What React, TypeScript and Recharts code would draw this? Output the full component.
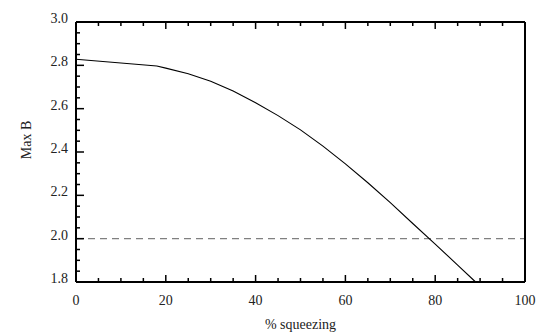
import React from 'react';
import { LineChart, Line, XAxis, YAxis, ReferenceLine } from 'recharts';

const squeezing = [0, 18, 20, 25, 30, 35, 40, 45, 50, 55, 60, 65, 70, 75, 80, 85, 89];
const maxB = [2.828, 2.797, 2.787, 2.761, 2.727, 2.681, 2.627, 2.568, 2.502, 2.427, 2.345, 2.258, 2.166, 2.07, 1.975, 1.878, 1.8];
const xTicks = [0, 5, 10, 15, 20, 25, 30, 35, 40, 45, 50, 55, 60, 65, 70, 75, 80, 85, 90, 95, 100];
const yTicks = [1.8, 1.85, 1.9, 1.95, 2.0, 2.05, 2.1, 2.15, 2.2, 2.25, 2.3, 2.35, 2.4, 2.45, 2.5, 2.55, 2.6, 2.65, 2.7, 2.75, 2.8, 2.85, 2.9, 2.95, 3.0];
const xLabel = '% squeezing';
const yLabel = 'Max B';
const threshold = 2.0;

const data = squeezing.map((x, i) => ({ x, y: maxB[i] }));

const FONT = 'Liberation Serif';
const textStyle = { fontSize: 14, fontFamily: FONT };
const isMajorX = (v: number) => Math.abs(v % 20) < 1e-6;
const isMajorY = (v: number) => Math.abs(Math.round(v * 100) % 20) < 1e-6;

const BottomTick = (props: any) => {
  const { x, y, payload } = props;
  const major = isMajorX(payload.value);
  return (
    <g>
      <line x1={x} x2={x} y1={y} y2={y - (major ? 7 : 4)} stroke="#000" strokeWidth={1.5} />
      {major && (
        <text x={x} y={y + 23} textAnchor="middle" fill="#222" style={textStyle}>
          {payload.value}
        </text>
      )}
    </g>
  );
};

const TopTick = (props: any) => {
  const { x, y, payload } = props;
  const major = isMajorX(payload.value);
  return <line x1={x} x2={x} y1={y} y2={y + (major ? 7 : 4)} stroke="#000" strokeWidth={1.5} />;
};

const LeftTick = (props: any) => {
  const { x, y, payload } = props;
  const major = isMajorY(payload.value);
  return (
    <g>
      <line x1={x} x2={x + (major ? 8 : 4)} y1={y} y2={y} stroke="#000" strokeWidth={1.5} />
      {major && (
        <text x={x - 8} y={y + 1} textAnchor="end" fill="#222" style={textStyle}>
          {payload.value.toFixed(1)}
        </text>
      )}
    </g>
  );
};

const RightTick = (props: any) => {
  const { x, y, payload } = props;
  const major = isMajorY(payload.value);
  return <line x1={x} x2={x - (major ? 8 : 4)} y1={y} y2={y} stroke="#000" strokeWidth={1.5} />;
};

export default function App() {
  return (
    <div style={{ position: 'absolute', left: 0, top: 0, background: '#fff', fontFamily: FONT }}>
      <LineChart width={544} height={335} data={data} margin={{ top: 12, right: 9, bottom: 0, left: 16 }}>
        <XAxis
          dataKey="x"
          type="number"
          domain={[0, 100]}
          ticks={xTicks}
          interval={0}
          tickSize={0}
          tickMargin={0}
          tick={<BottomTick />}
          axisLine={{ stroke: '#000', strokeWidth: 2 }}
          tickLine={false}
          height={53}
          label={{
            content: (p: any) => {
              const vb = p.viewBox;
              return (
                <text x={vb.x + vb.width / 2} y={vb.y + 47} textAnchor="middle" fill="#222" style={textStyle}>
                  {xLabel}
                </text>
              );
            },
          }}
        />
        <XAxis
          xAxisId="top"
          orientation="top"
          dataKey="x"
          type="number"
          domain={[0, 100]}
          ticks={xTicks}
          interval={0}
          tickSize={0}
          tickMargin={0}
          tick={<TopTick />}
          axisLine={{ stroke: '#000', strokeWidth: 2 }}
          tickLine={false}
          height={10}
        />
        <YAxis
          type="number"
          domain={[1.8, 3.0]}
          ticks={yTicks}
          interval={0}
          tickSize={0}
          tickMargin={0}
          tick={<LeftTick />}
          axisLine={{ stroke: '#000', strokeWidth: 2 }}
          tickLine={false}
          width={60}
          label={{
            content: (p: any) => {
              const vb = p.viewBox;
              const cx = vb.x + 10;
              const cy = vb.y + vb.height / 2 - 12;
              return (
                <text x={cx} y={cy} transform={`rotate(-90, ${cx}, ${cy})`} textAnchor="middle" dominantBaseline="central" fill="#222" style={textStyle}>
                  {yLabel}
                </text>
              );
            },
          }}
        />
        <YAxis
          yAxisId="right"
          orientation="right"
          type="number"
          domain={[1.8, 3.0]}
          ticks={yTicks}
          interval={0}
          tickSize={0}
          tickMargin={0}
          tick={<RightTick />}
          axisLine={{ stroke: '#000', strokeWidth: 2 }}
          tickLine={false}
          width={10}
        />
        <ReferenceLine y={threshold} stroke="#808080" strokeWidth={1.3} strokeDasharray="7 5" />
        <Line dataKey="y" type="linear" stroke="#000" strokeWidth={1.1} dot={false} isAnimationActive={false} />
      </LineChart>
    </div>
  );
}
